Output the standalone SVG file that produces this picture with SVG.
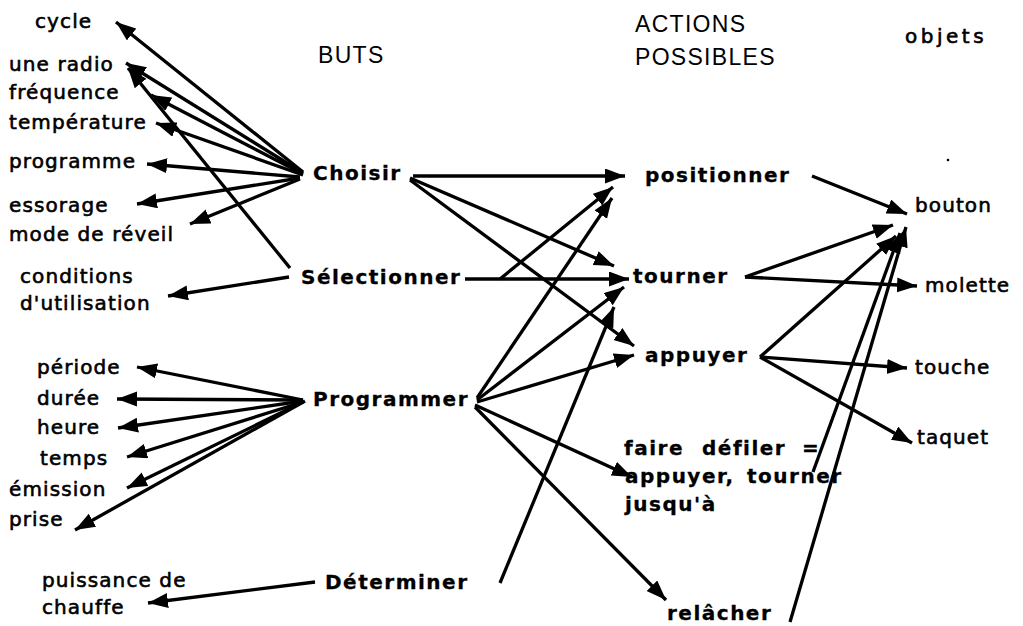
<svg xmlns="http://www.w3.org/2000/svg" width="1023" height="626" viewBox="0 0 1023 626">
<style>
.lbl{font-family:"DejaVu Sans","Verdana",sans-serif;font-size:20px;letter-spacing:1.1px;fill:#000;stroke:#000;stroke-width:0.6px}
.node{font-family:"DejaVu Sans","Verdana",sans-serif;font-size:20px;font-weight:bold;letter-spacing:1.5px;fill:#000;stroke:#000;stroke-width:0.3px}
.hdr{font-family:"Liberation Sans","Arial",sans-serif;font-size:23px;letter-spacing:1.3px;fill:#000}
.obj{font-family:"DejaVu Sans","Verdana",sans-serif;font-size:20px;letter-spacing:3.5px;fill:#000;stroke:#000;stroke-width:0.6px}
.c line{stroke:#000;stroke-width:3.3;stroke-linecap:butt}
.c line.a{marker-end:url(#ah)}
</style>
<defs>
<marker id="ah" markerUnits="userSpaceOnUse" markerWidth="22" markerHeight="16" refX="20" refY="7.5" orient="auto">
<path d="M0,0 L20,7.5 L0,15 z" fill="#000"/>
</marker>
</defs>
<rect width="1023" height="626" fill="#fff"/>

<g id="headers">
<text class="hdr" x="318" y="63">BUTS</text>
<text class="hdr" x="635" y="32">ACTIONS</text>
<text class="hdr" x="635" y="65">POSSIBLES</text>
<text class="obj" x="905" y="43">objets</text>
</g>

<g id="goals-left">
<text id="t-cycle" class="lbl" x="35" y="28">cycle</text>
<text id="t-radio" class="lbl" x="9" y="71">une radio</text>
<text id="t-freq" class="lbl" x="9" y="99">fréquence</text>
<text id="t-temp" class="lbl" x="9" y="129">température</text>
<text id="t-prog" class="lbl" x="9" y="168">programme</text>
<text id="t-ess" class="lbl" x="9" y="212">essorage</text>
<text id="t-mode" class="lbl" x="9" y="241">mode de réveil</text>
<text id="t-cond" class="lbl" x="20" y="283">conditions</text>
<text id="t-util" class="lbl" x="20" y="310">d'utilisation</text>
<text id="t-periode" class="lbl" x="37" y="374">période</text>
<text id="t-duree" class="lbl" x="37" y="405">durée</text>
<text id="t-heure" class="lbl" x="37" y="434">heure</text>
<text id="t-temps" class="lbl" x="40" y="465">temps</text>
<text id="t-emission" class="lbl" x="9" y="496">émission</text>
<text id="t-prise" class="lbl" x="9" y="526">prise</text>
<text id="t-puis" class="lbl" x="42" y="587">puissance de</text>
<text id="t-chauffe" class="lbl" x="42" y="614">chauffe</text>
</g>

<g id="n-choisir"><text class="node" x="313" y="180">Choisir</text></g>
<g id="n-selectionner"><text class="node" x="301" y="284">Sélectionner</text></g>
<g id="n-programmer"><text class="node" x="313" y="406">Programmer</text></g>
<g id="n-determiner"><text class="node" x="325" y="589">Déterminer</text></g>

<g id="n-positionner"><text class="node" x="645" y="182">positionner</text></g>
<g id="n-tourner"><text class="node" x="633" y="283">tourner</text></g>
<g id="n-appuyer"><text class="node" x="645" y="362">appuyer</text></g>
<g id="n-defiler"><text class="node"><tspan x="624" y="455">faire</tspan><tspan x="702" y="455">défiler</tspan><tspan x="802" y="455">=</tspan><tspan x="625" y="483">appuyer,</tspan><tspan x="747" y="483">tourner</tspan><tspan x="625" y="511">jusqu'à</tspan></text></g>
<g id="n-relacher"><text class="node" x="667" y="620">relâcher</text></g>

<g id="n-bouton"><text class="lbl" x="915" y="212">bouton</text></g>
<g id="n-molette"><text class="lbl" x="925" y="292">molette</text></g>
<g id="n-touche"><text class="lbl" x="915" y="374">touche</text></g>
<g id="n-taquet"><text class="lbl" x="917" y="444">taquet</text></g>

<circle cx="948" cy="160" r="1.3" fill="#000"/>

<g id="connectors" class="c">
<!-- Choisir left -->
<line class="a" x1="303" y1="172" x2="116" y2="22"/>
<line class="a" x1="303" y1="173" x2="126" y2="63"/>
<line class="a" x1="303" y1="174" x2="151" y2="95"/>
<line class="a" x1="303" y1="175" x2="156" y2="123"/>
<line class="a" x1="300" y1="177" x2="147" y2="164"/>
<line class="a" x1="300" y1="178" x2="137" y2="204"/>
<line class="a" x1="300" y1="179" x2="190" y2="224"/>
<!-- Sélectionner left -->
<line class="a" x1="290" y1="268" x2="128" y2="68"/>
<line class="a" x1="289" y1="277" x2="168" y2="296"/>
<!-- Choisir right -->
<line class="a" x1="413" y1="176" x2="625" y2="176"/>
<line class="a" x1="410" y1="178" x2="614" y2="266"/>
<line class="a" x1="410" y1="180" x2="634" y2="346"/>
<!-- Sélectionner right -->
<line class="a" x1="465" y1="279" x2="629" y2="279"/>
<line class="a" x1="500" y1="279" x2="613" y2="187"/>
<!-- Programmer left -->
<line class="a" x1="303" y1="400" x2="137" y2="367"/>
<line class="a" x1="303" y1="400" x2="117" y2="399"/>
<line class="a" x1="303" y1="401" x2="118" y2="428"/>
<line class="a" x1="303" y1="402" x2="127" y2="457"/>
<line class="a" x1="303" y1="402" x2="127" y2="488"/>
<line class="a" x1="305" y1="401" x2="75" y2="530"/>
<!-- Programmer right -->
<line class="a" x1="477" y1="398" x2="612" y2="198"/>
<line class="a" x1="477" y1="400" x2="624" y2="287"/>
<line class="a" x1="477" y1="402" x2="634" y2="355"/>
<line class="a" x1="475" y1="405" x2="632" y2="477"/>
<line class="a" x1="475" y1="407" x2="666" y2="600"/>
<!-- Déterminer -->
<line class="a" x1="315" y1="582" x2="148" y2="603"/>
<line class="a" x1="500" y1="583" x2="614" y2="307"/>
<!-- actions to objects -->
<line class="a" x1="812" y1="176" x2="907" y2="214"/>
<line class="a" x1="745" y1="277" x2="893" y2="225"/>
<line class="a" x1="745" y1="277" x2="917" y2="286"/>
<line class="a" x1="760" y1="357" x2="896" y2="236"/>
<line class="a" x1="760" y1="357" x2="907" y2="368"/>
<line class="a" x1="760" y1="357" x2="912" y2="443"/>
<line class="a" x1="813" y1="472" x2="900" y2="233"/>
<line class="a" x1="790" y1="622" x2="906" y2="227"/>
</g>
</svg>
